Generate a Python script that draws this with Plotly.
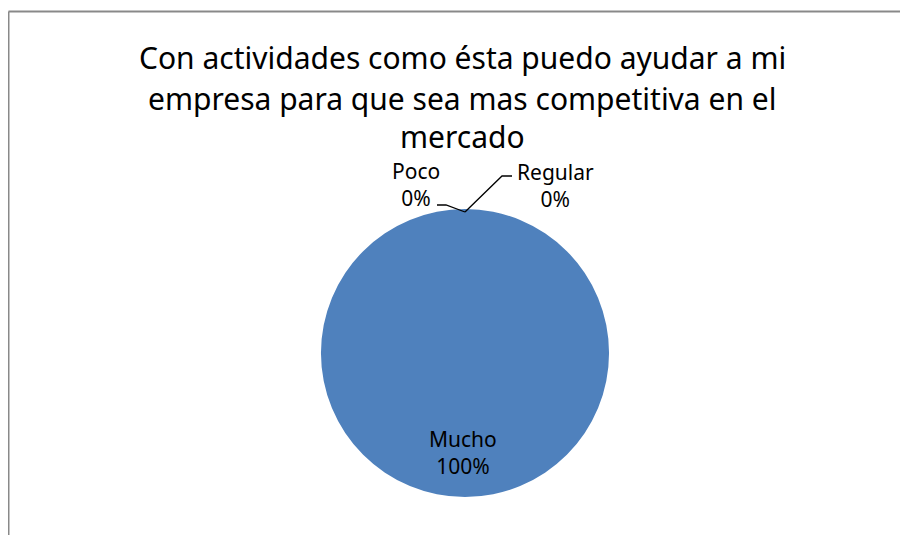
import plotly.graph_objects as go

categories = ["Mucho", "Poco", "Regular"]
values = [100, 0, 0]
title_lines = ["Con actividades como ésta puedo ayudar a mi",
               "empresa para que sea mas competitiva en el",
               "mercado"]

# page body has an 8px margin, so the figure is placed at (8, 8)
OFF = 8
W, H = 908 - OFF, 535 - OFF
FONT = "Noto Sans"

def px(x):
    return (x - OFF) / W

def py(y):
    return 1 - (y - OFF) / H

cx, cy, r = 465, 353, 144

fig = go.Figure(go.Pie(
    labels=categories,
    values=values,
    sort=False,
    direction="clockwise",
    rotation=0,
    marker=dict(colors=["#4F81BD", "#C0504D", "#9BBB59"], line=dict(width=0)),
    textinfo="none",
    hoverinfo="label+percent",
    showlegend=False,
    domain=dict(x=[px(cx - r), px(cx + r)], y=[py(cy + r), py(cy - r)]),
))

total = sum(values)
pct = {c: round(100 * v / total) for c, v in zip(categories, values)}

annotations = []
for line, yc in zip(title_lines, [57, 99, 137]):
    annotations.append(dict(text=line, x=px(462), y=py(yc), xref="paper", yref="paper",
                            showarrow=False, xanchor="center", yanchor="middle",
                            font=dict(family=FONT, size=30, color="#000000")))

label_pos = {"Mucho": (463, 452), "Poco": (416, 184), "Regular": (555, 185)}
for c in categories:
    x, y = label_pos[c]
    annotations.append(dict(text=f"{c}<br>{pct[c]}%", x=px(x), y=py(y), xref="paper", yref="paper",
                            showarrow=False, xanchor="center", yanchor="middle",
                            font=dict(family=FONT, size=21, color="#000000")))

shapes = [
    # chart area border (left and top)
    dict(type="line", xref="paper", yref="paper", x0=px(8.5), y0=py(540), x1=px(8.5), y1=py(11.5),
         line=dict(color="#898989", width=2)),
    dict(type="line", xref="paper", yref="paper", x0=px(8.5), y0=py(11.5), x1=px(910), y1=py(11.5),
         line=dict(color="#898989", width=2)),
    # leader lines
    dict(type="path", xref="paper", yref="paper",
         path=f"M {px(437)} {py(205)} L {px(446)} {py(205)} L {px(465)} {py(212)}",
         line=dict(color="#000000", width=1.3)),
    dict(type="path", xref="paper", yref="paper",
         path=f"M {px(465)} {py(212)} L {px(502)} {py(176)} L {px(512)} {py(176)}",
         line=dict(color="#000000", width=1.3)),
]

fig.update_layout(
    width=W, height=H,
    margin=dict(l=0, r=0, t=0, b=0),
    paper_bgcolor="#FFFFFF",
    plot_bgcolor="#FFFFFF",
    annotations=annotations,
    shapes=shapes,
)

fig.write_html("out.html")
